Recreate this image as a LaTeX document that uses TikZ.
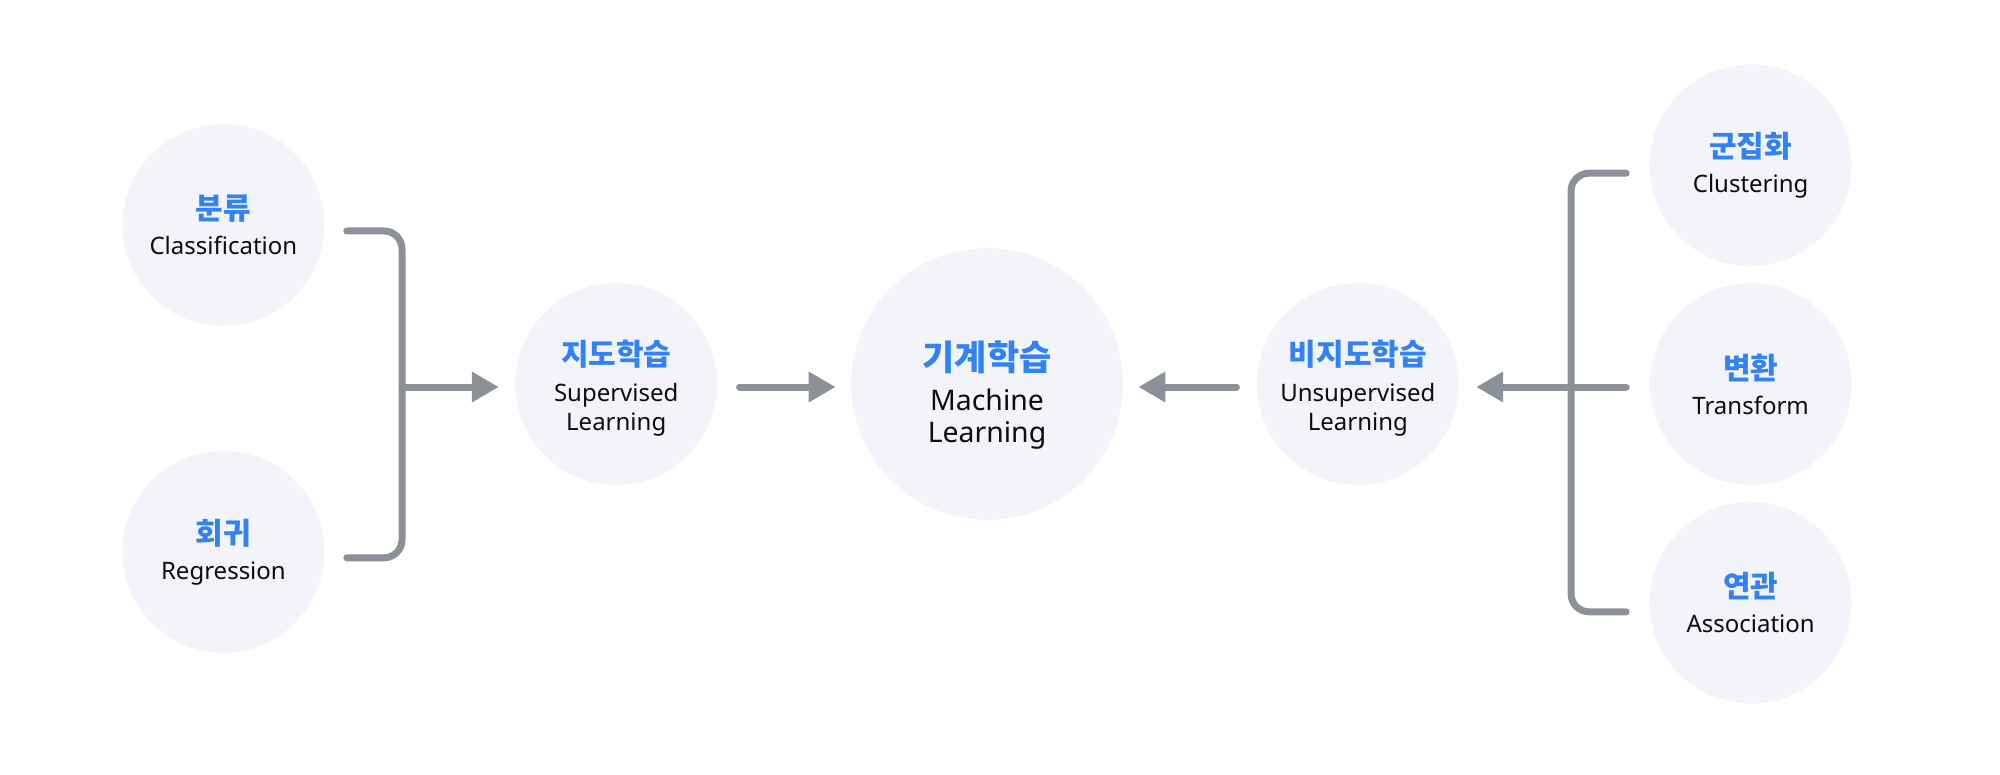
\documentclass[tikz,border=0pt]{standalone}
\usepackage{fontspec}
\setmainfont{Noto Sans}
\newfontfamily\kofont{Noto Sans CJK KR}
\usetikzlibrary{positioning,arrows.meta}

\definecolor{kblue}{HTML}{3182F6}
\definecolor{bubblefill}{HTML}{F3F4F9}
\definecolor{linkgray}{HTML}{8B9099}
\definecolor{textblack}{HTML}{0B0D10}

\newcommand{\kolabel}[2][15pt]{{\kofont\bfseries\color{kblue}\fontsize{#1}{#1}\selectfont #2}}

\tikzset{
  bubble/.style={circle, fill=bubblefill, minimum size=101pt, inner sep=0pt,
    align=center, text=textblack, font=\fontsize{12pt}{14.5pt}\selectfont},
  bigbubble/.style={bubble, minimum size=136pt, font=\fontsize{14.2pt}{16pt}\selectfont},
  link/.style={draw=linkgray, line width=3.5pt, line cap=round},
  flow/.style={-{Triangle[length=13.5pt,width=14.5pt]}},
}

\begin{document}
\begin{tikzpicture}[x=0.5pt, y=-0.5pt]
\useasboundingbox (0,0) rectangle (2000,775);

\node[bigbubble] (ml) at (987,384) {\rule{0pt}{26pt}\kolabel[17.5pt]{기계학습}\\[4pt]Machine\\Learning};
\node[bubble] (sup) [left=66.5pt of ml] {\rule{0pt}{17pt}\kolabel{지도학습}\\[3.5pt]Supervised\\Learning};
\node[bubble] (usl) [right=66.5pt of ml] {\rule{0pt}{17pt}\kolabel{비지도학습}\\[3.5pt]Unsupervised\\Learning};
\node[bubble] (cls) [left=95pt of sup, yshift=79.5pt] {\kolabel{분류}\\[3pt]Classification};
\node[bubble] (reg) [below=62pt of cls] {\kolabel{회귀}\\[3pt]Regression};
\node[bubble] (trf) [right=95pt of usl] {\kolabel{변환}\\[3pt]Transform};
\node[bubble] (clu) [above=8pt of trf] {\kolabel{군집화}\\[3pt]Clustering};
\node[bubble] (asc) [below=8pt of trf] {\kolabel{연관}\\[3pt]Association};

\coordinate (lbar) at (402,387);
\coordinate (rbar) at (1571,387);

% supervised side
\draw[link, rounded corners=9pt] ([shift={(22,6)}]cls.east) -| (lbar) |- ([shift={(22,6)}]reg.east);
\draw[link, flow] (lbar) -- ([shift={(-16,3)}]sup.west);
\draw[link, flow] ([shift={(22,3)}]sup.east) -- ([shift={(-15,3)}]ml.west);

% unsupervised side
\draw[link, flow] ([shift={(-20,3)}]usl.west) -- ([shift={(15,3)}]ml.east);
\draw[link, rounded corners=9pt] ([shift={(-23,8)}]clu.west) -| (rbar) |- ([shift={(-23,9)}]asc.west);
\draw[link, flow] ([shift={(-23,3)}]trf.west) -- ([shift={(17,3)}]usl.east);
\end{tikzpicture}
\end{document}
